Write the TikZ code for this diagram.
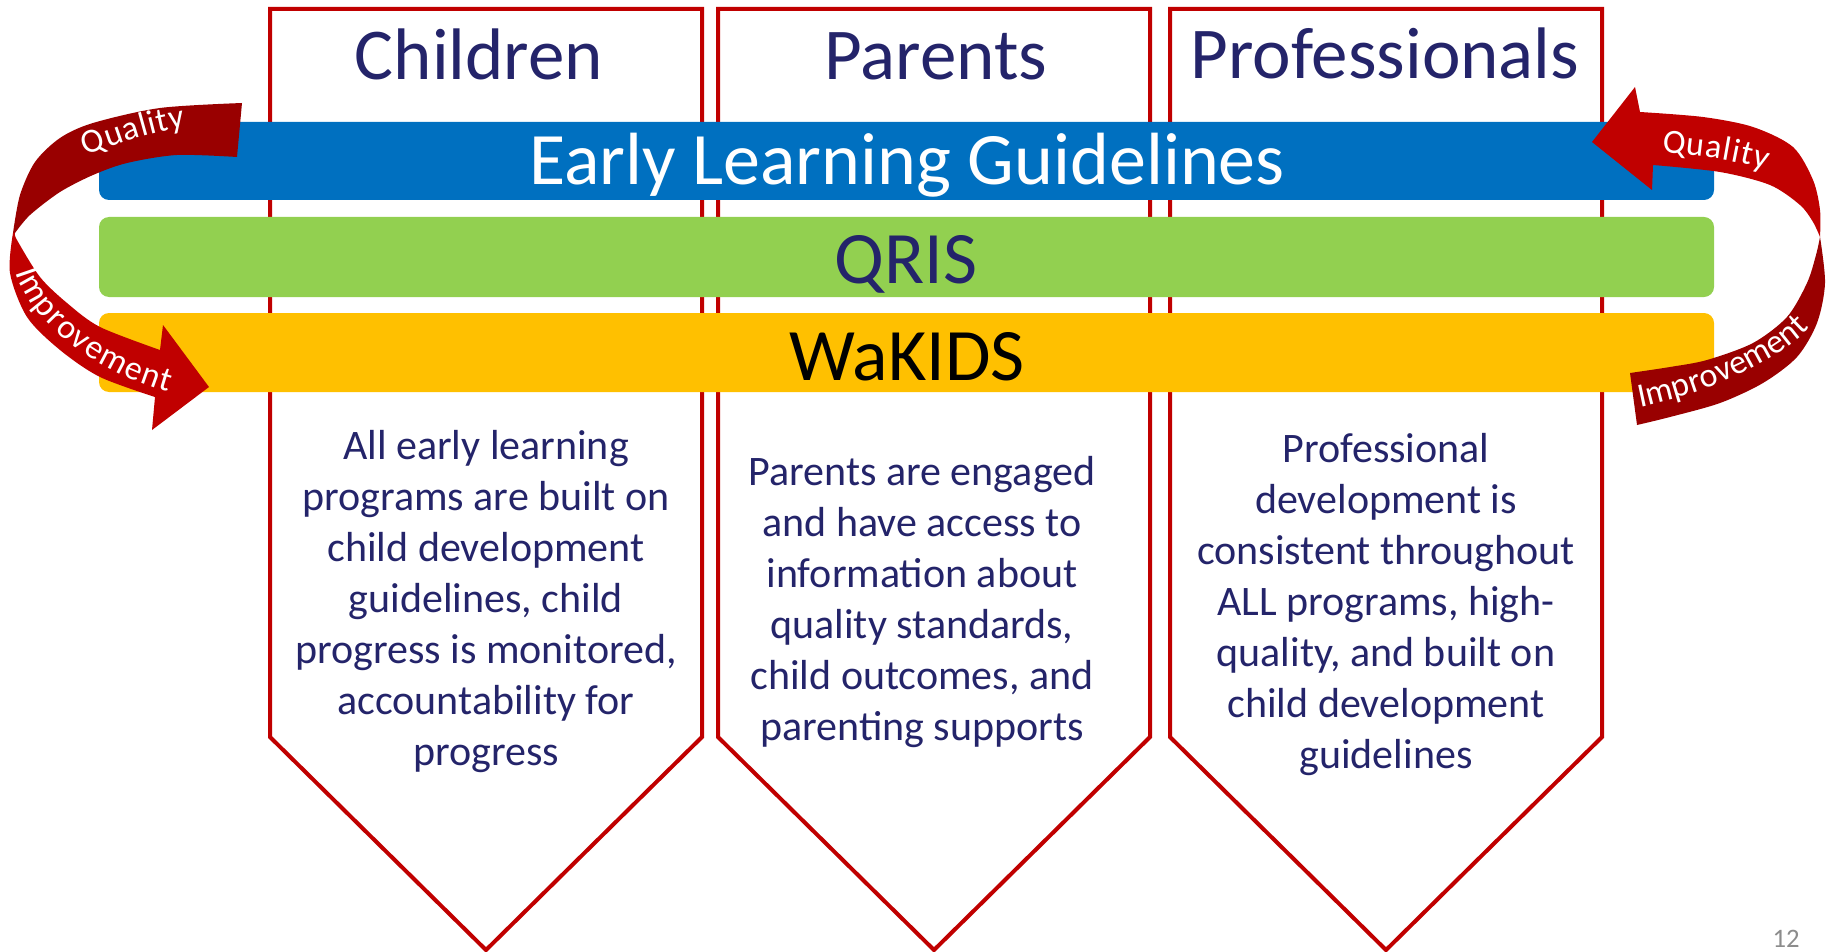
\documentclass[tikz,border=0pt]{standalone}
\usepackage{fontspec}
\setmainfont{Carlito}
\usetikzlibrary{decorations.text}

\definecolor{navytext}{RGB}{36,36,106}
\definecolor{pillarred}{RGB}{192,0,0}
\definecolor{ribbondark}{RGB}{153,0,0}
\definecolor{elgblue}{RGB}{0,112,192}
\definecolor{qrisgreen}{RGB}{146,208,80}
\definecolor{wakidsgold}{RGB}{255,192,0}
\definecolor{pagegrey}{RGB}{140,140,140}

\newcommand{\ribfont}{\fontsize{25.5}{25.5}\selectfont}

\tikzset{
	pillar/.style={draw=pillarred, fill=white, line width=3pt},
	band/.style={rounded corners=7.5pt},
	heading/.style={text=navytext, font=\fontsize{54.75}{66}\selectfont, anchor=base, inner sep=0pt},
	bandlabel/.style={font=\fontsize{55.5}{66}\selectfont, anchor=base, inner sep=0pt},
	pillartext/.style={text=navytext, align=center, font=\fontsize{31.5}{38.25}\selectfont, inner sep=0pt},
	ribbontext/.style={decorate, decoration={text along path, text align={fit to path}, text color=white}}}

\begin{document}
\begin{tikzpicture}[x=0.75pt,y=0.75pt,yscale=-1,xscale=1]
	\useasboundingbox (0,0) rectangle (1833,952);

	%Shape: Pillar Children
	\draw[pillar] (270,9) -- (702,9) -- (702,737) -- (486,950) -- (270,737) -- cycle;
	%Shape: Pillar Parents
	\draw[pillar] (718,9) -- (1150,9) -- (1150,737) -- (934,950) -- (718,737) -- cycle;
	%Shape: Pillar Professionals
	\draw[pillar] (1170,9) -- (1602,9) -- (1602,737) -- (1386,950) -- (1170,737) -- cycle;

	% Text Node
	\node[heading] (hdchild) at (479,80) {Children};
	% Text Node
	\node[heading] (hdparent) at (936,80) {Parents};
	% Text Node
	\node[heading] (hdprof) at (1385,79) {Professionals};

	%Shape: Bands
	\fill[elgblue, band] (99,122) rectangle (1714,200);
	\fill[qrisgreen, band] (99,217) rectangle (1714,297);
	\fill[wakidsgold, band] (99,313) rectangle (1714,392);

	% Text Node
	\node[bandlabel, text=white] (elg) at (907,185) {Early Learning Guidelines};
	% Text Node
	\node[bandlabel, text=navytext] (qris) at (906,283) {QRIS};
	% Text Node
	\node[bandlabel, text=black] (wakids) at (907,380) {WaKIDS};

	% Text Node
	\node[pillartext] (txchild) at (486,602) {All early learning\\programs are built on\\child development\\guidelines, child\\progress is monitored,\\accountability for\\progress};
	% Text Node
	\node[pillartext] (txparent) at (922,602) {Parents are engaged\\and have access to\\information about\\quality standards,\\child outcomes, and\\parenting supports};
	% Text Node
	\node[pillartext] (txprof) at (1386,605) {Professional\\development is\\consistent throughout\\ALL programs, high-\\quality, and built on\\child development\\guidelines};

	%Shape: Left ribbon, upper half
	\fill[ribbondark] plot[smooth] coordinates {(242,103) (160,108) (93,123) (60,138) (35,162) (20,195) (13,233)}
		-- plot[smooth] coordinates {(15,233) (30,215) (60,192) (93,175) (127,163) (177,155) (237,157)} -- cycle;
	%Shape: Left ribbon, lower half with head
	\fill[pillarred] plot[smooth] coordinates {(13,233) (10,273) (27,317) (60,350) (100,377) (155,397)}
		-- (152,430) -- (209,387) -- (163,325) -- (160,350)
		-- plot[smooth] coordinates {(160,350) (100,327) (67,303) (40,277) (17,240) (15,233)} -- cycle;
	%Shape: Right ribbon, upper half with head
	\fill[pillarred] (1592,142) -- (1635,87) -- (1640,112)
		-- plot[smooth] coordinates {(1640,112) (1703,117) (1753,127) (1793,147) (1813,180) (1820,210) (1820,237)}
		-- plot[smooth] coordinates {(1820,237) (1813,222) (1800,205) (1770,185) (1720,172) (1653,165)}
		-- (1652,190) -- cycle;
	%Shape: Right ribbon, lower half
	\fill[ribbondark] plot[smooth] coordinates {(1820,237) (1825,283) (1817,323) (1797,357) (1763,383) (1720,403) (1670,417) (1637,425)}
		-- plot[smooth] coordinates {(1630,373) (1670,367) (1707,360) (1753,343) (1787,317) (1807,283) (1816,255) (1820,237)} -- cycle;

	% Ribbon texts
	\path[ribbontext, decoration={text={|\ribfont|Quality}}] (86,156) .. controls (115,145) and (150,132) .. (186,127);
	\path[ribbontext, decoration={text={|\ribfont|Improvement}}] (16,272) .. controls (30,320) and (90,370) .. (168,392);
	\path[ribbontext, decoration={text={|\ribfont|Quality}}] (1662,153) .. controls (1695,155) and (1735,160) .. (1766,170);
	\path[ribbontext, decoration={text={|\ribfont|Improvement}}] (1640,407) .. controls (1700,395) and (1775,365) .. (1810,328);

	% Text Node
	\node[text=pagegrey, font=\fontsize{20}{24}\selectfont, anchor=base, inner sep=0pt] (pagenum) at (1786,947) {12};
\end{tikzpicture}
\end{document}
